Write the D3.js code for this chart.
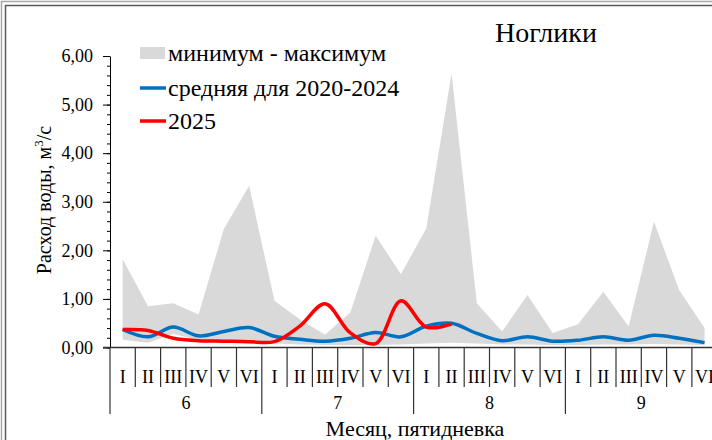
<!DOCTYPE html>
<html>
<head>
<meta charset="utf-8">
<script src="https://cdn.jsdelivr.net/npm/d3@7"></script>
<style>
  body { margin: 0; background: #fff; }
  svg text { font-family: "Liberation Serif", "Times New Roman", serif; fill: #000; }
</style>
</head>
<body>
<div id="chart"></div>
<script>
// data
var months = ["6", "7", "8", "9"];
var pentads = ["I", "II", "III", "IV", "V", "VI"];
var yTicks = [0, 1, 2, 3, 4, 5, 6];

var maxVals = [1.82, 0.85, 0.91, 0.68, 2.44, 3.33, 0.96, 0.58, 0.26, 0.72, 2.30, 1.51,
               2.45, 5.64, 0.91, 0.33, 1.08, 0.30, 0.48, 1.15, 0.43, 2.59, 1.18, 0.40];
var minVals = [0.16, 0.10, 0.28, 0.15, 0.10, 0.08, 0.08, 0.06, 0.05, 0.05, 0.05, 0.06,
               0.08, 0.10, 0.08, 0.06, 0.06, 0.05, 0.05, 0.06, 0.06, 0.07, 0.06, 0.05];
var meanVals = [0.37, 0.22, 0.42, 0.24, 0.33, 0.41, 0.23, 0.17, 0.13, 0.19, 0.31, 0.22,
                0.44, 0.50, 0.29, 0.14, 0.22, 0.13, 0.15, 0.22, 0.15, 0.25, 0.19, 0.10];
var vals2025 = [0.37, 0.35, 0.19, 0.14, 0.13, 0.12, 0.12, 0.44, 0.90, 0.30, 0.08, 0.96,
                0.42, 0.48];

var width = 712, height = 440;

var svg = d3.select("#chart").append("svg")
    .attr("width", width)
    .attr("height", height)
    .style("display", "block");

// outer frame (cut on the right and bottom like the picture)
svg.append("path")
    .attr("d", "M1.5," + height + "V1.5H" + width)
    .attr("fill", "none").attr("stroke", "#a6a6a6").attr("stroke-width", 1.5);
svg.append("path")
    .attr("d", "M5.5," + height + "V5.5H" + width)
    .attr("fill", "none").attr("stroke", "#595959").attr("stroke-width", 1.5);

var cats = d3.range(months.length * pentads.length);
var x = d3.scaleBand()
    .domain(cats)
    .range([110, 717.2]);
var bw = x.bandwidth();
var cx = function (i) { return x(i) + bw / 2; };

var y = d3.scaleLinear()
    .domain([0, 6])
    .range([347.5, 56]);

var g = svg.append("g");

// min - max band
var area = d3.area()
    .x(function (d, i) { return cx(i); })
    .y0(function (d, i) { return y(minVals[i]); })
    .y1(function (d) { return y(d); });

g.append("path")
    .datum(maxVals)
    .attr("d", area)
    .attr("fill", "#d9d9d9");

var line = d3.line()
    .x(function (d, i) { return cx(i); })
    .y(function (d) { return y(d); })
    .curve(d3.curveCatmullRom.alpha(0.5));

g.append("path")
    .datum(meanVals)
    .attr("d", line)
    .attr("fill", "none")
    .attr("stroke", "#0070c0")
    .attr("stroke-width", 3.5);

g.append("path")
    .datum(vals2025)
    .attr("d", line)
    .attr("fill", "none")
    .attr("stroke", "#ff0000")
    .attr("stroke-width", 3.5);

// y axis, minor ticks then major
var fmt = function (d) { return d3.format(".2f")(d).replace(".", ","); };

svg.append("g")
    .attr("transform", "translate(110,0)")
    .call(d3.axisLeft(y).tickValues(d3.range(0, 30.5, 1).map(function (d) { return d / 5; }))
        .tickSize(3).tickFormat(""))
    .call(function (s) {
        s.select(".domain").remove();
        s.selectAll("line").attr("stroke", "#000");
    });

var yAxis = svg.append("g")
    .attr("transform", "translate(110,0)")
    .call(d3.axisLeft(y).tickValues(yTicks).tickSize(7).tickSizeOuter(0).tickPadding(10).tickFormat(fmt));
yAxis.select(".domain").attr("stroke", "#000");
yAxis.selectAll("text").attr("font-size", 18);

// category axis
svg.append("line")
    .attr("x1", 103).attr("x2", width)
    .attr("y1", y(0)).attr("y2", y(0))
    .attr("stroke", "#333").attr("stroke-width", 1.3);

cats.forEach(function (i) {
    var left = x(i);
    var isMonth = i % pentads.length === 0;
    svg.append("line")
        .attr("x1", left).attr("x2", left)
        .attr("y1", y(0)).attr("y2", isMonth ? 414 : 387)
        .attr("stroke", "#333").attr("stroke-width", 1.2);
    svg.append("text")
        .attr("x", cx(i)).attr("y", 383)
        .attr("text-anchor", "middle")
        .attr("font-size", 18)
        .text(pentads[i % pentads.length]);
});

months.forEach(function (m, k) {
    var a = x(k * pentads.length), b = a + bw * pentads.length;
    svg.append("text")
        .attr("x", (a + b) / 2).attr("y", 409)
        .attr("text-anchor", "middle")
        .attr("font-size", 18)
        .text(m);
});

// axis titles
svg.append("text")
    .attr("x", 415).attr("y", 436)
    .attr("text-anchor", "middle")
    .attr("font-size", 22)
    .text("Месяц, пятидневка");

var yt = svg.append("text")
    .attr("transform", "translate(51,200) rotate(-90)")
    .attr("text-anchor", "middle")
    .attr("font-size", 20);
yt.append("tspan").text("Расход воды, м");
yt.append("tspan").attr("font-size", 13).attr("dy", -8).text("3");
yt.append("tspan").attr("dy", 8).text("/с");

// station name
svg.append("text")
    .attr("x", 546).attr("y", 42)
    .attr("text-anchor", "middle")
    .attr("font-size", 28)
    .text("Ноглики");

// legend
var legend = svg.append("g");
legend.append("rect")
    .attr("x", 140).attr("y", 47).attr("width", 25).attr("height", 12)
    .attr("fill", "#d9d9d9");
legend.append("line")
    .attr("x1", 140).attr("x2", 166).attr("y1", 88).attr("y2", 88)
    .attr("stroke", "#0070c0").attr("stroke-width", 3.5);
legend.append("line")
    .attr("x1", 140).attr("x2", 166).attr("y1", 121).attr("y2", 121)
    .attr("stroke", "#ff0000").attr("stroke-width", 3.5);

var legendLabels = ["минимум - максимум", "средняя для 2020-2024", "2025"];
var legendY = [61, 96, 129];
legendLabels.forEach(function (t, k) {
    legend.append("text")
        .attr("x", 168).attr("y", legendY[k])
        .attr("font-size", 24)
        .text(t);
});
</script>
</body>
</html>
